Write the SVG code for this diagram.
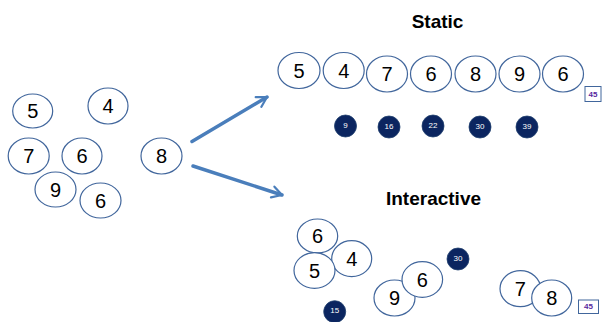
<svg xmlns="http://www.w3.org/2000/svg" width="602" height="322" viewBox="0 0 602 322">
<defs>
<style>
.n ellipse{fill:#fff;stroke:#41669c;stroke-width:1.2}
.n text{font-family:"Liberation Sans",Arial,sans-serif;font-size:20px;fill:#000;text-anchor:middle;dominant-baseline:central}
.d circle{fill:#0b2560;stroke:#21406f;stroke-width:0.8}
.d text{font-family:"Liberation Sans",Arial,sans-serif;font-size:8px;fill:#fff;text-anchor:middle;dominant-baseline:central}
.b rect{fill:#fff;stroke:#41669c;stroke-width:1}
.b text{font-family:"Liberation Sans",Arial,sans-serif;font-size:8px;font-weight:bold;fill:#5a2aa0;text-anchor:middle;dominant-baseline:central}
.t{font-family:"Liberation Sans",Arial,sans-serif;font-size:19px;font-weight:bold;fill:#000;text-anchor:middle}
.c line{stroke:#4a7ebb;stroke-width:3.5;stroke-linecap:round;marker-end:url(#ah)}
</style>
<marker id="ah" viewBox="0 0 10 10" refX="8" refY="5" markerWidth="4" markerHeight="4" orient="auto" markerUnits="strokeWidth">
<polyline points="1,1 8,5 1,9" fill="none" stroke="#4a7ebb" stroke-width="1.6" stroke-linecap="round" stroke-linejoin="round"/>
</marker>
</defs>
<rect width="602" height="322" fill="#fff"/>
<text class="t" x="437.5" y="28">Static</text>
<text class="t" x="433.5" y="205">Interactive</text>
<g id="connectors" class="c">
<line x1="192" y1="141.5" x2="267" y2="97"/>
<line x1="193" y1="166" x2="282" y2="195"/>
</g>
<g id="l5" class="n"><ellipse cx="32.7" cy="111" rx="20" ry="17"/><text x="32.7" y="111">5</text></g>
<g id="l4" class="n"><ellipse cx="108" cy="106" rx="20" ry="18"/><text x="108" y="106">4</text></g>
<g id="l7" class="n"><ellipse cx="28.7" cy="156" rx="20.5" ry="18"/><text x="28.7" y="156">7</text></g>
<g id="l6a" class="n"><ellipse cx="82" cy="156" rx="20" ry="18"/><text x="82" y="156">6</text></g>
<g id="l8" class="n"><ellipse cx="161.5" cy="156" rx="20.5" ry="18"/><text x="161.5" y="156">8</text></g>
<g id="l9" class="n"><ellipse cx="55.5" cy="189.5" rx="20.5" ry="17.5"/><text x="55.5" y="189.5">9</text></g>
<g id="l6b" class="n"><ellipse cx="100.5" cy="200.5" rx="20.5" ry="17.5"/><text x="100.5" y="200.5">6</text></g>
<g id="s5" class="n"><ellipse cx="299" cy="70.5" rx="21" ry="18"/><text x="299" y="70.5">5</text></g>
<g id="s4" class="n"><ellipse cx="343.7" cy="70.5" rx="20.5" ry="18"/><text x="343.7" y="70.5">4</text></g>
<g id="s7" class="n"><ellipse cx="387" cy="74" rx="20.5" ry="18"/><text x="387" y="74">7</text></g>
<g id="s6a" class="n"><ellipse cx="431" cy="74" rx="20.5" ry="18"/><text x="431" y="74">6</text></g>
<g id="s8" class="n"><ellipse cx="475.5" cy="74" rx="20.5" ry="18"/><text x="475.5" y="74">8</text></g>
<g id="s9" class="n"><ellipse cx="519.5" cy="74" rx="20.5" ry="18"/><text x="519.5" y="74">9</text></g>
<g id="s6b" class="n"><ellipse cx="563" cy="74" rx="20.5" ry="18"/><text x="563" y="74">6</text></g>
<g id="s45" class="b"><rect x="585" y="86.5" width="16" height="15"/><text x="593" y="94">45</text></g>
<g id="s9d" class="d"><circle cx="345.5" cy="126" r="11"/><text x="345.5" y="125">9</text></g>
<g id="s16d" class="d"><circle cx="389" cy="127" r="11"/><text x="389" y="126">16</text></g>
<g id="s22d" class="d"><circle cx="433" cy="126" r="11"/><text x="433" y="125">22</text></g>
<g id="s30d" class="d"><circle cx="480" cy="127" r="11"/><text x="480" y="126">30</text></g>
<g id="s39d" class="d"><circle cx="527" cy="127" r="11"/><text x="527" y="126">39</text></g>
<g id="i6a" class="n"><ellipse cx="317.5" cy="236" rx="20.2" ry="17"/><text x="317.5" y="236">6</text></g>
<g id="i4" class="n"><ellipse cx="351.7" cy="258.7" rx="20" ry="18"/><text x="351.7" y="258.7">4</text></g>
<g id="i5" class="n"><ellipse cx="314.5" cy="270.5" rx="20.5" ry="17.8"/><text x="314.5" y="270.5">5</text></g>
<g id="i9" class="n"><ellipse cx="394.5" cy="298" rx="20.5" ry="18"/><text x="394.5" y="298">9</text></g>
<g id="i6b" class="n"><ellipse cx="422.3" cy="279.5" rx="20.3" ry="17.8"/><text x="422.3" y="279.5">6</text></g>
<g id="i7" class="n"><ellipse cx="520.3" cy="288.7" rx="20.3" ry="18"/><text x="520.3" y="288.7">7</text></g>
<g id="i8" class="n"><ellipse cx="551.7" cy="298" rx="20" ry="18"/><text x="551.7" y="298">8</text></g>
<g id="i30d" class="d"><circle cx="458" cy="259" r="11"/><text x="458" y="258">30</text></g>
<g id="i15d" class="d"><circle cx="334.7" cy="311.7" r="11"/><text x="334.7" y="310.7">15</text></g>
<g id="i45" class="b"><rect x="578.5" y="300" width="20" height="13.5"/><text x="588.5" y="306.8">45</text></g>
</svg>
